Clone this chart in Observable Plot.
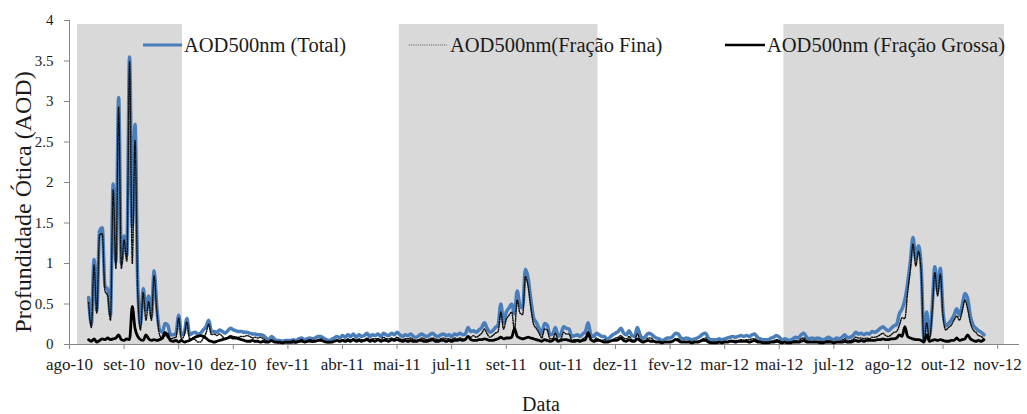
<!DOCTYPE html>
<html><head><meta charset="utf-8">
<script src="https://cdn.jsdelivr.net/npm/d3@7"></script>
<script src="https://cdn.jsdelivr.net/npm/@observablehq/plot@0.6"></script>
<style>
html,body{margin:0;padding:0;background:#fff;}
#chart{width:1027px;height:414px;position:relative;}
#chart g[aria-label="x-axis tick label"] text{font-size:17px;}
#chart g[aria-label="y-axis tick label"] text{font-size:15px;}
</style></head><body><div id="chart"></div>
<script>
// Category axis: one category per measurement, a label every 20 categories
const xTickLabels = ["ago-10","set-10","nov-10","dez-10","fev-11","abr-11","mai-11","jul-11","set-11","out-11","dez-11","fev-12","mar-12","mai-12","jul-12","ago-12","out-12","nov-12"];
const categoriesPerLabel = 20;
const firstCategory = 7;
const lastCategory = 348;
const yTicks = [0,0.5,1,1.5,2,2.5,3,3.5,4];
const seriesNames = ["AOD500nm (Total)", "AOD500nm(Fração Fina)", "AOD500nm (Fração Grossa)"];
const yTitle = "Profundidade Ótica (AOD)";
const xTitle = "Data";

// Shaded (dry season) periods, in category units
const dryStart = [2.9, 120.8, 261.7];
const dryEnd = [41.4, 193.6, 342.5];
const dryTop = 3.95;

const total = [
0.58,0.25,1.05,0.42,1.40,1.44,0.72,0.68,0.36,1.98,
1.02,3.05,1.00,1.34,1.10,3.55,1.45,2.72,0.75,0.24,
0.69,0.42,0.60,0.35,0.91,0.45,0.18,0.15,0.26,0.24,
0.12,0.12,0.14,0.36,0.12,0.14,0.32,0.12,0.14,0.15,
0.13,0.14,0.18,0.22,0.30,0.16,0.16,0.15,0.18,0.16,
0.14,0.17,0.20,0.18,0.17,0.16,0.16,0.15,0.15,0.14,
0.13,0.13,0.12,0.12,0.11,0.08,0.06,0.10,0.07,0.05,
0.05,0.04,0.05,0.05,0.05,0.06,0.05,0.07,0.08,0.06,
0.07,0.08,0.07,0.08,0.10,0.10,0.08,0.06,0.05,0.06,
0.08,0.10,0.08,0.11,0.09,0.12,0.10,0.13,0.09,0.12,
0.10,0.11,0.14,0.10,0.12,0.11,0.13,0.10,0.14,0.12,
0.11,0.14,0.12,0.15,0.12,0.10,0.12,0.11,0.13,0.10,
0.09,0.11,0.13,0.11,0.10,0.12,0.14,0.11,0.10,0.12,
0.13,0.11,0.12,0.10,0.13,0.12,0.14,0.12,0.13,0.21,
0.16,0.17,0.15,0.18,0.21,0.27,0.20,0.15,0.17,0.21,
0.24,0.50,0.27,0.40,0.45,0.50,0.38,0.66,0.48,0.45,
0.93,0.82,0.55,0.33,0.27,0.20,0.13,0.26,0.24,0.12,
0.13,0.21,0.10,0.13,0.22,0.20,0.19,0.10,0.11,0.12,
0.10,0.13,0.16,0.27,0.12,0.10,0.14,0.12,0.10,0.10,
0.06,0.09,0.12,0.14,0.16,0.20,0.14,0.12,0.17,0.11,
0.10,0.21,0.12,0.07,0.10,0.14,0.13,0.10,0.08,0.07,
0.05,0.06,0.08,0.08,0.10,0.14,0.13,0.08,0.07,0.08,
0.07,0.06,0.07,0.08,0.10,0.13,0.14,0.08,0.06,0.06,
0.06,0.07,0.06,0.07,0.08,0.09,0.10,0.09,0.10,0.11,
0.10,0.11,0.10,0.12,0.13,0.09,0.07,0.06,0.06,0.06,
0.08,0.09,0.11,0.09,0.06,0.07,0.06,0.05,0.07,0.09,
0.08,0.12,0.14,0.09,0.07,0.08,0.07,0.08,0.07,0.06,
0.07,0.09,0.07,0.06,0.08,0.07,0.09,0.12,0.08,0.09,
0.11,0.15,0.13,0.14,0.12,0.14,0.13,0.16,0.15,0.17,
0.20,0.22,0.19,0.17,0.20,0.23,0.25,0.38,0.44,0.55,
0.75,1.02,1.32,1.05,1.22,0.95,0.06,0.40,0.10,0.45,
0.96,0.66,0.94,0.40,0.23,0.26,0.30,0.36,0.44,0.36,
0.48,0.63,0.57,0.35,0.24,0.20,0.17,0.15,0.12
];

const fine = [
0.52,0.21,0.98,0.39,1.35,1.37,0.66,0.60,0.30,1.91,
0.94,2.93,0.94,1.29,1.03,3.49,1.00,2.52,0.65,0.18,
0.64,0.30,0.53,0.30,0.85,0.40,0.12,0.07,0.11,0.14,
0.07,0.08,0.09,0.33,0.07,0.11,0.28,0.07,0.07,0.06,
0.03,0.03,0.08,0.14,0.25,0.12,0.13,0.11,0.13,0.10,
0.07,0.09,0.11,0.10,0.09,0.09,0.10,0.10,0.11,0.10,
0.08,0.09,0.08,0.09,0.07,0.05,0.03,0.05,0.04,0.02,
0.02,0.02,0.02,0.02,0.02,0.02,0.02,0.03,0.03,0.03,
0.03,0.03,0.03,0.04,0.05,0.04,0.04,0.03,0.02,0.03,
0.04,0.05,0.04,0.06,0.05,0.07,0.06,0.07,0.05,0.07,
0.06,0.06,0.08,0.06,0.07,0.07,0.07,0.06,0.09,0.07,
0.07,0.08,0.07,0.09,0.07,0.06,0.07,0.07,0.08,0.06,
0.05,0.06,0.08,0.07,0.06,0.07,0.08,0.07,0.06,0.07,
0.08,0.07,0.07,0.06,0.08,0.07,0.08,0.07,0.07,0.10,
0.09,0.11,0.09,0.11,0.14,0.19,0.13,0.09,0.11,0.14,
0.16,0.40,0.19,0.31,0.36,0.40,0.17,0.55,0.39,0.37,
0.84,0.72,0.46,0.25,0.20,0.14,0.08,0.19,0.18,0.07,
0.07,0.14,0.05,0.07,0.15,0.13,0.13,0.05,0.06,0.06,
0.05,0.07,0.09,0.11,0.05,0.05,0.08,0.06,0.05,0.06,
0.03,0.04,0.06,0.08,0.09,0.11,0.08,0.07,0.10,0.06,
0.05,0.13,0.06,0.04,0.05,0.08,0.08,0.05,0.04,0.04,
0.03,0.03,0.04,0.04,0.05,0.07,0.07,0.04,0.04,0.04,
0.04,0.03,0.04,0.04,0.05,0.07,0.08,0.04,0.03,0.03,
0.03,0.04,0.03,0.04,0.04,0.05,0.05,0.05,0.05,0.06,
0.05,0.06,0.06,0.07,0.07,0.05,0.04,0.03,0.03,0.03,
0.04,0.05,0.06,0.05,0.03,0.04,0.03,0.03,0.04,0.05,
0.04,0.07,0.08,0.05,0.04,0.04,0.04,0.04,0.04,0.03,
0.04,0.05,0.04,0.03,0.04,0.04,0.05,0.07,0.04,0.05,
0.06,0.09,0.08,0.08,0.07,0.08,0.07,0.09,0.09,0.10,
0.12,0.14,0.11,0.10,0.12,0.15,0.16,0.24,0.33,0.32,
0.64,0.92,1.24,0.97,1.15,0.88,0.03,0.27,0.06,0.39,
0.89,0.60,0.87,0.34,0.18,0.21,0.24,0.30,0.35,0.30,
0.41,0.55,0.44,0.27,0.18,0.15,0.11,0.10,0.06
];

const coarse = [
0.06,0.04,0.07,0.03,0.05,0.07,0.06,0.08,0.06,0.07,
0.08,0.12,0.06,0.05,0.07,0.06,0.47,0.20,0.10,0.06,
0.05,0.12,0.07,0.05,0.06,0.05,0.06,0.08,0.15,0.10,
0.05,0.04,0.05,0.03,0.05,0.03,0.04,0.05,0.07,0.09,
0.10,0.11,0.10,0.08,0.05,0.04,0.03,0.04,0.05,0.06,
0.07,0.08,0.09,0.08,0.08,0.07,0.06,0.05,0.04,0.04,
0.05,0.04,0.04,0.03,0.04,0.03,0.03,0.05,0.03,0.03,
0.03,0.02,0.03,0.03,0.03,0.04,0.03,0.04,0.05,0.03,
0.04,0.05,0.04,0.04,0.05,0.06,0.04,0.03,0.03,0.03,
0.04,0.05,0.04,0.05,0.04,0.05,0.04,0.06,0.04,0.05,
0.04,0.05,0.06,0.04,0.05,0.04,0.06,0.04,0.05,0.05,
0.04,0.06,0.05,0.06,0.05,0.04,0.05,0.04,0.05,0.04,
0.04,0.05,0.05,0.04,0.04,0.05,0.06,0.04,0.04,0.05,
0.05,0.04,0.05,0.04,0.05,0.05,0.06,0.05,0.06,0.10,
0.06,0.05,0.05,0.06,0.06,0.07,0.06,0.05,0.05,0.06,
0.07,0.09,0.07,0.08,0.08,0.09,0.20,0.10,0.08,0.07,
0.08,0.09,0.08,0.07,0.06,0.05,0.04,0.06,0.05,0.04,
0.05,0.07,0.04,0.05,0.06,0.06,0.05,0.04,0.04,0.05,
0.04,0.05,0.06,0.15,0.06,0.04,0.05,0.05,0.04,0.03,
0.03,0.04,0.05,0.05,0.06,0.08,0.05,0.04,0.06,0.04,
0.04,0.07,0.05,0.03,0.04,0.05,0.04,0.04,0.03,0.03,
0.02,0.03,0.03,0.03,0.04,0.06,0.05,0.03,0.03,0.03,
0.03,0.02,0.03,0.03,0.04,0.05,0.05,0.03,0.02,0.02,
0.02,0.03,0.02,0.03,0.03,0.04,0.04,0.03,0.04,0.04,
0.04,0.04,0.03,0.04,0.05,0.03,0.03,0.02,0.02,0.02,
0.03,0.03,0.04,0.03,0.02,0.03,0.02,0.02,0.03,0.03,
0.03,0.04,0.05,0.03,0.03,0.03,0.03,0.03,0.02,0.02,
0.03,0.03,0.03,0.02,0.03,0.03,0.03,0.04,0.03,0.03,
0.04,0.05,0.04,0.05,0.04,0.05,0.05,0.05,0.05,0.06,
0.06,0.07,0.06,0.06,0.07,0.07,0.08,0.12,0.10,0.22,
0.10,0.08,0.07,0.06,0.06,0.05,0.03,0.12,0.04,0.05,
0.06,0.05,0.06,0.05,0.04,0.04,0.05,0.05,0.08,0.05,
0.06,0.07,0.12,0.07,0.05,0.04,0.05,0.04,0.06
];

const rows = total.map((v, i) => ({c: firstCategory + i, total: v, fine: fine[i], coarse: coarse[i]}));
const bands = dryStart.map((s, k) => ({s, e: dryEnd[k]}));
const xTickPos = xTickLabels.map((_, k) => k * categoriesPerLabel);

const FONT = "'Liberation Serif', 'Times New Roman', serif";
const TXT = "#1a1a1a";
const AX = "#868686";
const BLUE = "#4a7ebb";

const plot = Plot.plot({
  width: 1027,
  height: 414,
  marginLeft: 69,
  marginRight: 8,
  marginTop: 20,
  marginBottom: 70,
  style: {fontFamily: FONT, background: "#fff", color: TXT},
  x: {domain: [0, lastCategory], axis: null},
  y: {domain: [0, 4], axis: null},
  marks: [
    Plot.rect(bands, {x1: "s", x2: "e", y1: 0, y2: dryTop, fill: "#d9d9d9"}),
    Plot.ruleY([0], {stroke: AX, strokeWidth: 1}),
    Plot.ruleX([0], {y1: 0, y2: 4, stroke: AX, strokeWidth: 1}),
    Plot.axisX({ticks: xTickPos, tickFormat: d => xTickLabels[Math.round(d / categoriesPerLabel)], tickSize: 5, tickPadding: 8, fontSize: 17, stroke: AX, fill: TXT, label: null}),
    Plot.axisY({ticks: yTicks, tickFormat: d => String(d), tickSize: 5, tickPadding: 11, fontSize: 15, stroke: AX, fill: TXT, label: null}),
    Plot.line(rows, {x: "c", y: "total", stroke: BLUE, strokeWidth: 3.5, curve: "monotone-x"}),
    Plot.line(rows, {x: "c", y: "fine", stroke: "#111", strokeWidth: 1.5, strokeDasharray: "1,1.5", curve: "monotone-x"}),
    Plot.line(rows, {x: "c", y: "coarse", stroke: "#000", strokeWidth: 2.8, curve: "monotone-x"})
  ]
});

const svg = d3.select(plot);
// Legend (inside the plot area, top)
const legendItems = [
  {x1: 143, x2: 182, tx: 184, stroke: BLUE, width: 3, dash: null},
  {x1: 409, x2: 447, tx: 450, stroke: "#555", width: 1.2, dash: "1,1.2"},
  {x1: 725, x2: 765, tx: 767, stroke: "#000", width: 2.5, dash: null}
];
const lg = svg.append("g").attr("text-anchor", "start");
legendItems.forEach((it, k) => {
  const ln = lg.append("line").attr("x1", it.x1).attr("x2", it.x2).attr("y1", 45).attr("y2", 45)
    .attr("stroke", it.stroke).attr("stroke-width", it.width);
  if (it.dash) ln.attr("stroke-dasharray", it.dash);
  lg.append("text").attr("x", it.tx).attr("y", 52).attr("text-anchor", "start").attr("font-size", 20.5).attr("font-family", FONT)
    .attr("fill", TXT).text(seriesNames[k]);
});
// Axis titles
svg.append("text").attr("transform", "translate(31,202) rotate(-90)").attr("text-anchor", "middle")
  .attr("font-size", 24).attr("font-family", FONT).attr("fill", TXT).text(yTitle);
svg.append("text").attr("x", 541).attr("y", 411).attr("text-anchor", "middle")
  .attr("font-size", 20).attr("font-family", FONT).attr("fill", TXT).text(xTitle);

document.getElementById("chart").appendChild(plot);
</script></body></html>
